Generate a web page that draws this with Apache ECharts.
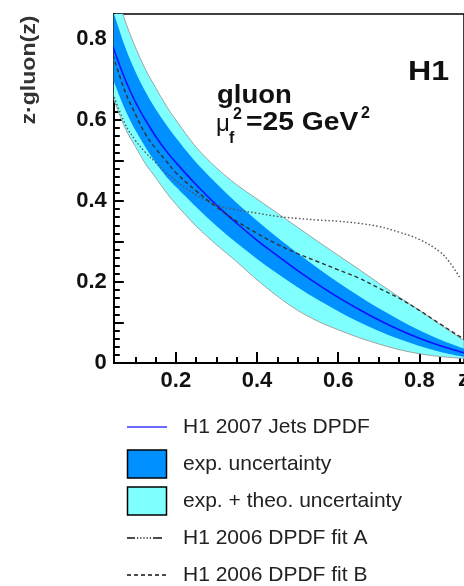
<!DOCTYPE html>
<html>
<head>
<meta charset="utf-8">
<style>
html,body{margin:0;padding:0;background:#fff;}
#c{width:464px;height:586px;}
</style>
<script src="https://cdn.jsdelivr.net/npm/echarts@6/dist/echarts.min.js"></script>
</head>
<body>
<div id="c"></div>
<script>
// ---- data ----
const zGrid   = [0.045,0.075,0.1,0.125,0.15,0.175,0.2,0.25,0.3,0.35,0.4,0.45,0.5,0.55,0.6,0.65,0.7,0.75,0.8,0.85,0.9,0.91];
const outerHi = [0.94,0.845,0.78,0.725,0.68,0.637,0.60,0.533,0.482,0.44,0.405,0.37,0.335,0.30,0.266,0.232,0.197,0.163,0.13,0.096,0.062,0.056];
const innerHi = [0.87,0.78,0.72,0.67,0.627,0.59,0.556,0.495,0.443,0.395,0.351,0.31,0.271,0.234,0.199,0.166,0.135,0.107,0.081,0.058,0.039,0.036];
const central = [0.78,0.70,0.645,0.60,0.56,0.525,0.495,0.44,0.39,0.345,0.303,0.265,0.228,0.194,0.162,0.133,0.106,0.082,0.061,0.043,0.028,0.026];
const innerLo = [0.70,0.625,0.575,0.533,0.495,0.462,0.435,0.385,0.338,0.296,0.257,0.221,0.187,0.156,0.128,0.102,0.079,0.059,0.042,0.028,0.017,0.015];
const outerLo = [0.655,0.58,0.535,0.492,0.458,0.423,0.392,0.338,0.292,0.25,0.205,0.165,0.13,0.103,0.082,0.063,0.047,0.033,0.023,0.016,0.012,0.011];
const fitB    = [0.76,0.67,0.615,0.565,0.53,0.50,0.47,0.425,0.385,0.35,0.32,0.293,0.27,0.25,0.23,0.21,0.185,0.16,0.13,0.097,0.065,0.058];
const zA      = [0.045,0.075,0.1,0.125,0.15,0.175,0.2,0.25,0.3,0.35,0.4,0.45,0.5,0.55,0.6,0.65,0.7,0.75,0.8,0.85,0.875,0.9];
const fitA    = [0.665,0.59,0.55,0.52,0.495,0.47,0.45,0.415,0.39,0.378,0.37,0.362,0.357,0.353,0.35,0.345,0.337,0.323,0.305,0.275,0.248,0.21];

const xLabelTicks = [0.2,0.4,0.6,0.8];
const xMinorTicks = [0.1,0.15,0.25,0.3,0.35,0.45,0.5,0.55,0.65,0.7,0.75,0.85,0.9];
const yLabelTicks = [0,0.2,0.4,0.6,0.8];
const yMidTicks   = [0,0.1,0.2,0.3,0.4,0.5,0.6,0.7,0.8];
const yMinorTicks = [0.02,0.04,0.06,0.08,0.12,0.14,0.16,0.18,0.22,0.24,0.26,0.28,0.32,0.34,0.36,0.38,0.42,0.44,0.46,0.48,0.52,0.54,0.56,0.58,0.62,0.64,0.66,0.68,0.72,0.74,0.76,0.78,0.82,0.84];

const legendNames = ['H1 2007 Jets DPDF','exp. uncertainty','exp. + theo. uncertainty','H1 2006 DPDF fit A','H1 2006 DPDF fit B'];

// ---- build ----
const FONT = '"Liberation Sans", Arial, Helvetica, sans-serif';
const XMIN = 0.047, XMAX = 0.91, YMIN = 0, YMAX = 0.8617;
const CYAN = '#80ffff', BLUE = '#0090ff', LINEBLUE = '#1010ff';

const pair = (xs, ys) => xs.map((x,i)=>[x, ys[i]]);

// smooth path (Catmull-Rom -> cubic Bezier) through pixel points
function curveTo(pts, start){
  let d = (start ? 'M' : 'L') + pts[0][0].toFixed(2) + ' ' + pts[0][1].toFixed(2);
  for (let i = 0; i < pts.length - 1; i++) {
    const p0 = pts[i-1] || pts[i], p1 = pts[i], p2 = pts[i+1], p3 = pts[i+2] || pts[i+1];
    const c1 = [p1[0] + (p2[0]-p0[0])/6, p1[1] + (p2[1]-p0[1])/6];
    const c2 = [p2[0] - (p3[0]-p1[0])/6, p2[1] - (p3[1]-p1[1])/6];
    d += ' C' + c1[0].toFixed(2)+' '+c1[1].toFixed(2)+' '+c2[0].toFixed(2)+' '+c2[1].toFixed(2)+' '+p2[0].toFixed(2)+' '+p2[1].toFixed(2);
  }
  return d;
}

function bandSeries(name, lo, hi, fill, stroke, strokeW, z){
  return {
    type:'custom', name:name, z:z, clip:true, animation:false, silent:true,
    data: zGrid.map((x,i)=>[x, lo[i], hi[i]]),
    encode:{x:0, y:[1,2]},
    renderItem:function(params, api){
      if (params.dataIndex !== 0) return null;
      const up = zGrid.map((x,i)=>api.coord([x, hi[i]]));
      const dn = zGrid.map((x,i)=>api.coord([x, lo[i]])).reverse();
      const d = curveTo(up, true) + ' ' + curveTo(dn, false) + ' Z';
      const cs = params.coordSys;
      return {
        type:'group',
        clipPath:{type:'rect', shape:{x:cs.x, y:cs.y, width:cs.width, height:cs.height}},
        children:[{
          type:'path', shape:{pathData:d},
          style:{fill:fill, stroke:stroke, lineWidth:strokeW}
        }]
      };
    }
  };
}

const chart = echarts.init(document.getElementById('c'), null, {renderer:'canvas'});

const baseX = {type:'value', min:XMIN, max:XMAX, position:'bottom', splitLine:{show:false}};
const baseY = {type:'value', min:YMIN, max:YMAX, position:'left', splitLine:{show:false}};
const lineCommon = {type:'line', showSymbol:false, symbol:'none', smooth:0.4, animation:false, silent:true};

// legend drawn as graphic rows (icon + text)
const legendRowsY = [427, 464, 501, 538, 575];
const legendIcons = [
  {type:'line', shape:{x1:127, y1:legendRowsY[0], x2:167, y2:legendRowsY[0]}, style:{stroke:'#3a3aff', lineWidth:1.6}},
  {type:'rect', shape:{x:127.5, y:legendRowsY[1]-14, width:39, height:28}, style:{fill:BLUE, stroke:'#000', lineWidth:1.5}},
  {type:'rect', shape:{x:127.5, y:legendRowsY[2]-14, width:39, height:28}, style:{fill:CYAN, stroke:'#000', lineWidth:1.5}},
  {type:'line', shape:{x1:127, y1:legendRowsY[3], x2:167, y2:legendRowsY[3]}, style:{stroke:'#111', lineWidth:1.3, lineDash:[8,2,1.2,2,1.2,2,1.2,2,1.2,2,1.2,2,9]}},
  {type:'line', shape:{x1:127, y1:legendRowsY[4], x2:167, y2:legendRowsY[4]}, style:{stroke:'#111', lineWidth:1.3, lineDash:[4,3]}}
];
const legendTexts = legendNames.map((t,i)=>({type:'text', x:183, y:legendRowsY[i], style:{text:t, font:'21px '+FONT, fill:'#222', textAlign:'left', textVerticalAlign:'middle'}}));

chart.setOption({
  animation:false,
  backgroundColor:'#fff',
  grid:{left:113.8, top:14, width:350.8, height:349, show:true, borderColor:'#000', borderWidth:1.5, backgroundColor:'transparent', containLabel:false},
  xAxis:[
    Object.assign({}, baseX, {
      axisLine:{show:true, lineStyle:{color:'#000', width:2}},
      axisTick:{show:true, inside:true, length:11, lineStyle:{color:'#000', width:2}, customValues:xLabelTicks},
      axisLabel:{show:true, customValues:xLabelTicks, margin:7, color:'#111', fontFamily:FONT, fontSize:22, fontWeight:'bold', formatter:v=>String(v)}
    }),
    Object.assign({}, baseX, {
      axisLine:{show:false},
      axisTick:{show:true, inside:true, length:6, lineStyle:{color:'#000', width:2}, customValues:xMinorTicks},
      axisLabel:{show:false}
    })
  ],
  yAxis:[
    Object.assign({}, baseY, {
      axisLine:{show:true, lineStyle:{color:'#000', width:2}},
      axisTick:{show:true, inside:true, length:10, lineStyle:{color:'#000', width:2}, customValues:yMidTicks},
      axisLabel:{show:true, customValues:yLabelTicks, margin:7, color:'#111', fontFamily:FONT, fontSize:22, fontWeight:'bold', formatter:v=>String(v)}
    }),
    Object.assign({}, baseY, {
      axisLine:{show:false},
      axisTick:{show:true, inside:true, length:6, lineStyle:{color:'#000', width:2}, customValues:yMinorTicks},
      axisLabel:{show:false}
    })
  ],
  series:[
    bandSeries(legendNames[2], outerLo, outerHi, CYAN, '#9a9a9a', 0.9, 2),
    bandSeries(legendNames[1], innerLo, innerHi, BLUE, null, 0, 3),
    Object.assign({}, lineCommon, {name:legendNames[0], data:pair(zGrid, central), lineStyle:{color:LINEBLUE, width:1.6}, z:4}),
    Object.assign({}, lineCommon, {name:legendNames[3], data:pair(zA, fitA), lineStyle:{color:'#555', width:1.4, type:[1.5,2.2]}, z:5}),
    Object.assign({}, lineCommon, {name:legendNames[4], data:pair(zGrid, fitB), lineStyle:{color:'#333', width:1.4, type:[4,3]}, z:5})
  ],
  graphic:[
    {type:'text', x:29, y:70, rotation:Math.PI/2, scaleX:1.1, style:{text:'z·gluon(z)', font:'bold 21px '+FONT, fill:'#333', textAlign:'center', textVerticalAlign:'middle'}},
    {type:'text', x:408, y:72, scaleX:1.15, style:{text:'H1', font:'bold 28px '+FONT, fill:'#111', textAlign:'left', textVerticalAlign:'middle'}},
    {type:'text', x:217, y:96, scaleX:1.1, style:{text:'gluon', font:'bold 25px '+FONT, fill:'#111', textAlign:'left', textVerticalAlign:'middle'}},
    {type:'text', x:216, y:124, style:{text:'μ', font:'24px '+FONT, fill:'#111', textAlign:'left', textVerticalAlign:'middle'}},
    {type:'text', x:229, y:139, style:{text:'f', font:'bold 16px '+FONT, fill:'#111', textAlign:'left', textVerticalAlign:'middle'}},
    {type:'text', x:233, y:115, style:{text:'2', font:'bold 16px '+FONT, fill:'#111', textAlign:'left', textVerticalAlign:'middle'}},
    {type:'text', x:246, y:123, scaleX:1.13, style:{text:'=25 GeV', font:'bold 25px '+FONT, fill:'#111', textAlign:'left', textVerticalAlign:'middle'}},
    {type:'text', x:361, y:114, style:{text:'2', font:'bold 16px '+FONT, fill:'#111', textAlign:'left', textVerticalAlign:'middle'}},
    {type:'text', x:458, y:380, style:{text:'z', font:'bold 22px '+FONT, fill:'#111', textAlign:'left', textVerticalAlign:'middle'}}
  ].concat(legendIcons, legendTexts)
});
</script>
</body>
</html>
